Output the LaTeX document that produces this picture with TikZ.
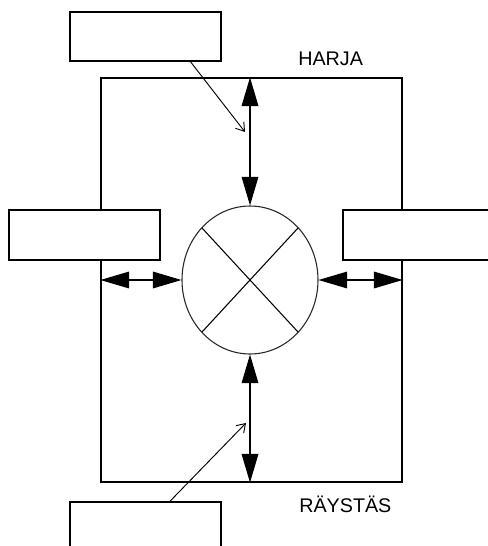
\documentclass[tikz,border=0pt]{standalone}
\usepackage{fontspec}
\setmainfont{Liberation Sans}
\usetikzlibrary{shapes.geometric,arrows.meta,calc}
\begin{document}
\begin{tikzpicture}[x=0.75pt,y=-0.75pt,
  box/.style={draw,line width=0.9pt,inner sep=0pt,minimum width={151*0.75pt},minimum height={49*0.75pt}},
  bigarrow/.style={line width=0.9pt,{Triangle[length=21.5pt,width=12.5pt]}-{Triangle[length=21.5pt,width=12.5pt]}},
  leader/.style={line width=0.7pt,-{Straight Barb[length=6pt,width=8pt]}},
  lbl/.style={font=\fontsize{14.8}{16}\selectfont,anchor=base west,inner sep=0pt}]
\useasboundingbox (0,0) rectangle (488,546);
\clip (0,0) rectangle (488,546);
\node[draw,line width=0.9pt,inner sep=0pt,minimum width={301*0.75pt},minimum height={404*0.75pt}] (R) at (251.5,280) {};
\node[box] (T) at (145.5,36.5) {};
\node[box,minimum height={50*0.75pt},fill=white] (L) at (84.5,235) {};
\node[box,minimum height={50*0.75pt},fill=white] (Rt) at (418.5,235) {};
\node[box] (B) at (145.5,526.5) {};
\node[draw,ellipse,line width=0.8pt,inner sep=0pt,minimum width={136*0.75pt},minimum height={148*0.75pt},draw=black!85] (C) at (250,280) {};
\draw[line width=0.8pt] ($(C.center)+(-48,-52)$) -- ($(C.center)+(48,52)$);
\draw[line width=0.8pt] ($(C.center)+(48,-52)$) -- ($(C.center)+(-48,52)$);
\draw[bigarrow] (C.north |- R.north) -- (C.north);
\draw[bigarrow] (C.south) -- (C.south |- R.south);
\draw[bigarrow,line width=0.8pt] (C.west -| R.west) -- (C.west);
\draw[bigarrow,line width=0.8pt] (C.east) -- (C.east -| R.east);
\coordinate (tl) at (245,132);
\coordinate (bl) at (246,423);
\draw[leader] ($(T.south west)!0.795!(T.south east)$) -- (tl);
\draw[leader] ($(B.north west)!0.66!(B.north east)$) -- (bl);
\node[lbl] (harja) at (298,65) {HARJA};
\node[lbl] (raystas) at (299,512) {RÄYSTÄS};
\end{tikzpicture}
\end{document}
